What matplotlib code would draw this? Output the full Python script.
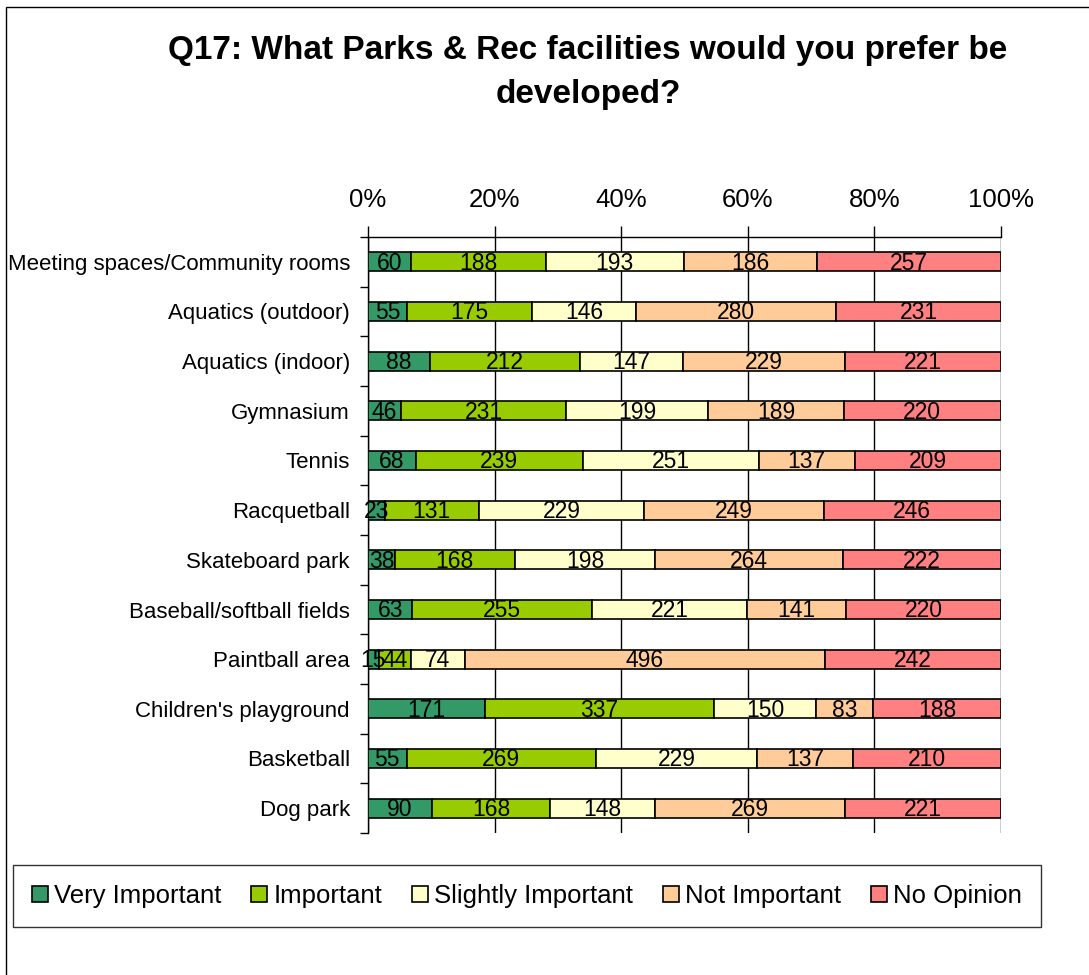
import numpy as np
import matplotlib.pyplot as plt
from matplotlib.patches import Rectangle
from matplotlib.ticker import FixedLocator, PercentFormatter

plt.rcParams['font.family'] = ['Liberation Sans', 'DejaVu Sans']

categories = ['Meeting spaces/Community rooms', 'Aquatics (outdoor)', 'Aquatics (indoor)',
              'Gymnasium', 'Tennis', 'Racquetball', 'Skateboard park',
              'Baseball/softball fields', 'Paintball area', "Children's playground",
              'Basketball', 'Dog park']
series = ['Very Important', 'Important', 'Slightly Important', 'Not Important', 'No Opinion']
very_important = [60, 55, 88, 46, 68, 23, 38, 63, 15, 171, 55, 90]
important = [188, 175, 212, 231, 239, 131, 168, 255, 44, 337, 269, 168]
slightly_important = [193, 146, 147, 199, 251, 229, 198, 221, 74, 150, 229, 148]
not_important = [186, 280, 229, 189, 137, 249, 264, 141, 496, 83, 137, 269]
no_opinion = [257, 231, 221, 220, 209, 246, 222, 220, 242, 188, 210, 221]
colors = ['#339966', '#99CC00', '#FFFFCC', '#FFCC99', '#FF8080']

counts = np.array([very_important, important, slightly_important, not_important, no_opinion], dtype=float)
shares = counts / counts.sum(axis=0)

fig = plt.figure(figsize=(10.89, 9.75), dpi=100)
ax = fig.add_axes([368 / 1089, 1 - 833 / 975, 633 / 1089, 596 / 975])

y = np.arange(len(categories))
left = np.zeros(len(categories))
for i in range(len(series)):
    ax.barh(y, shares[i], left=left, height=0.38, color=colors[i],
            edgecolor='black', linewidth=1.2, label=series[i], zorder=3)
    for j in range(len(categories)):
        ax.text(left[j] + shares[i][j] / 2, y[j] + 0.03, str(int(counts[i][j])),
                ha='center', va='center', fontsize=16.5, zorder=4)
    left += shares[i]

ax.set_xlim(0, 1)
ax.set_ylim(len(categories) - 0.5, -0.5)
ax.xaxis.set_major_locator(FixedLocator([0, 0.2, 0.4, 0.6, 0.8, 1.0]))
ax.xaxis.set_major_formatter(PercentFormatter(1.0, decimals=0))
ax.xaxis.tick_top()
ax.tick_params(axis='x', direction='out', length=8, width=1, labelsize=18.5, pad=10)
ax.grid(axis='x', color='black', linewidth=1, zorder=0)

ax.set_yticks(y)
ax.set_yticklabels(categories, fontsize=16)
ax.set_yticks(np.arange(len(categories) + 1) - 0.5, minor=True)
ax.tick_params(axis='y', which='major', length=0, pad=13)
ax.tick_params(axis='y', which='minor', length=6, width=1, direction='out')

ax.spines['right'].set_visible(False)
ax.spines['bottom'].set_visible(False)
ax.spines['top'].set_linewidth(1)
ax.spines['left'].set_linewidth(1)

fig.text(588 / 1089, 1 - 51 / 975, 'Q17: What Parks & Rec facilities would you prefer be',
         ha='center', va='center', fontsize=24, fontweight='bold')
fig.text(588 / 1089, 1 - 94 / 975, 'developed?',
         ha='center', va='center', fontsize=24, fontweight='bold')

leg = fig.legend(loc='center', bbox_to_anchor=(527 / 1089, 1 - 896 / 975), ncol=5,
                 fontsize=18.5, frameon=True, fancybox=False, edgecolor='black',
                 handlelength=0.62, handleheight=0.62, handletextpad=0.25,
                 columnspacing=1.15, borderpad=0.75)
leg.get_frame().set_linewidth(1)

fig.patches.append(Rectangle((6 / 1089, -0.1), 1.2, 1.1 - 7 / 975, transform=fig.transFigure,
                             fill=False, edgecolor='black', linewidth=1))

fig.savefig('out.png', dpi=100)
